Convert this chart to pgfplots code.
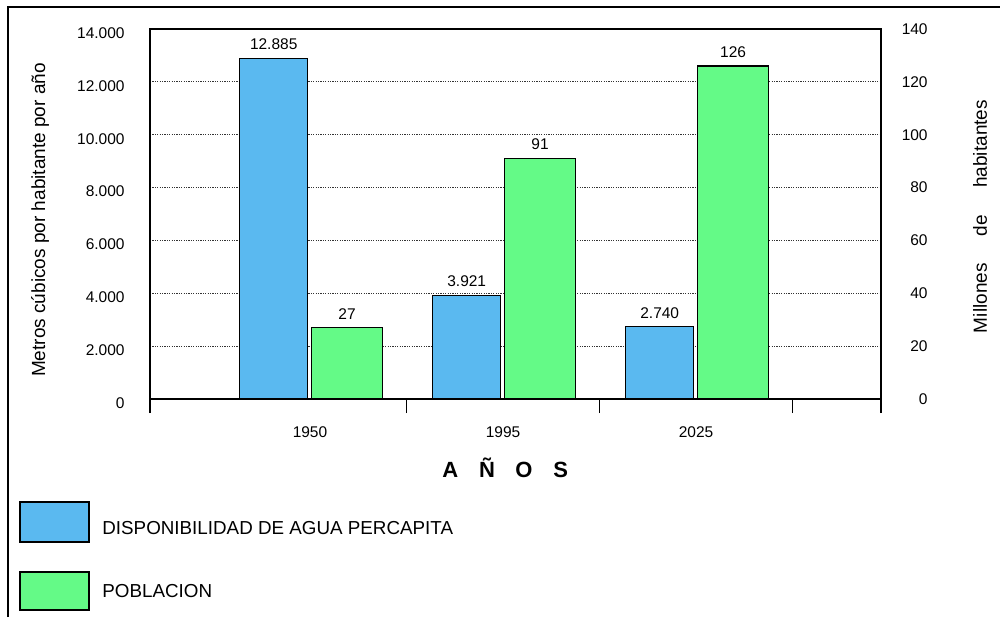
\documentclass[border=0pt]{standalone}
\usepackage{fontspec}
\setmainfont{Liberation Sans}
\usepackage{pgfplots}
\pgfplotsset{compat=1.18}
\pgfplotsset{/pgf/number format/assume math mode=true}
\definecolor{barblue}{RGB}{90,185,240}
\definecolor{bargreen}{RGB}{100,250,135}
\newcommand\tfont{\fontsize{7.75}{9}\selectfont}
\begin{document}
\begin{tikzpicture}
\path[use as bounding box] (0,0) rectangle (500pt,308.5pt);
\draw[line width=1pt] (4pt,0pt) -- (4pt,305pt) -- (500pt,305pt);
\begin{axis}[
  at={(75pt,109pt)}, anchor=south west,
  scale only axis, width=365.5pt, height=185pt,
  xmin=-0.829, xmax=2.9585, ymin=0, ymax=14000,
  axis line style={line width=0.7pt},
  xtick={0,1,2}, xticklabels={1950,1995,2025},
  xtick pos=bottom,
  major tick length=0pt,
  xticklabel style={font=\tfont, anchor=base, inner sep=0pt, yshift=-19pt},
  extra x ticks={-0.829,0.5,1.5,2.5,2.9585},
  extra x tick labels={},
  extra x tick style={grid=none, xtick pos=bottom, major tick length=7pt, tick align=outside, tick style={line width=0.8pt, black}},
  ytick={0,2000,...,14000}, ytick pos=left,
  scaled y ticks=false,
  /pgf/number format/1000 sep={.},
  yticklabel style={font=\tfont, anchor=east, inner sep=0pt, xshift=-12.5pt, yshift=-2pt},
  ymajorgrids,
  grid style={dash pattern=on 0.6pt off 0.6pt, black!80, line width=0.5pt},
]
% x positions: year index (0=1950, 1=1995, 2=2025) shifted left for this series
\addplot[ybar, bar width=0.352, bar shift=0pt, fill=barblue, draw=black, line width=0.7pt,
  nodes near coords, nodes near coords style={font=\tfont, black, yshift=0.5pt}]
  coordinates {(-0.188,12885) (0.812,3921) (1.812,2740)};
\end{axis}
\begin{axis}[
  at={(75pt,109pt)}, anchor=south west,
  scale only axis, width=365.5pt, height=185pt,
  xmin=-0.829, xmax=2.9585, ymin=0, ymax=140,
  axis x line=none, axis y line*=right,
  axis line style={line width=0.7pt},
  ytick={0,20,...,140},
  major tick length=0pt,
  yticklabel style={font=\tfont, anchor=east, inner sep=0pt, xshift=23.5pt},
]
% x positions: year index shifted right for this series
\addplot[ybar, bar width=0.368, bar shift=0pt, fill=bargreen, draw=black, line width=0.7pt,
  nodes near coords, nodes near coords style={font=\tfont, black, yshift=0.5pt}]
  coordinates {(0.192,27) (1.192,91) (2.192,126)};
\end{axis}
% axis titles
\node[rotate=90, font=\fontsize{9.5}{11}\selectfont] at (20pt,198.5pt) {Metros cúbicos por habitante por año};
\node[rotate=90, font=\fontsize{9.5}{11}\selectfont] at (490pt,200.25pt) {\makebox[116.5pt]{Millones\hfill de\hfill habitantes}};
\node[anchor=base, font=\bfseries\fontsize{11}{13}\selectfont, inner sep=0pt] at (252.8pt,70pt)
  {\makebox[18.4pt]{A}\makebox[18.4pt]{Ñ}\makebox[18.4pt]{O}\makebox[18.4pt]{S}};
% legend
\draw[fill=barblue, line width=0.9pt] (10pt,37.5pt) rectangle (44.5pt,57.5pt);
\node[anchor=west, inner sep=0pt, font=\fontsize{9.4}{11}\selectfont] at (51pt,44.5pt) {DISPONIBILIDAD DE AGUA PERCAPITA};
\draw[fill=bargreen, line width=0.9pt] (10pt,3.5pt) rectangle (44.5pt,22.5pt);
\node[anchor=west, inner sep=0pt, font=\fontsize{9.4}{11}\selectfont] at (51pt,13pt) {POBLACION};
\end{tikzpicture}
\end{document}
